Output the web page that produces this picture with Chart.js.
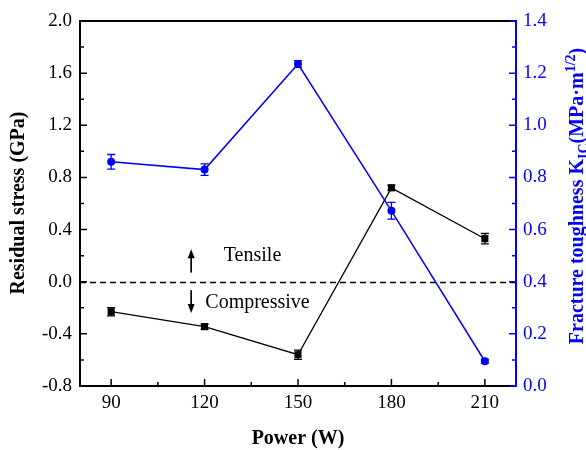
<!DOCTYPE html>
<html><head><meta charset="utf-8">
<script src="https://cdn.jsdelivr.net/npm/chart.js@4/dist/chart.umd.min.js"></script>
<style>html,body{margin:0;padding:0;background:#fff}#wrap{width:586px;height:450px;position:relative}</style>
</head><body><div id="wrap"><canvas id="c" width="586" height="450"></canvas></div>
<script>
// ---- data ----
const powers = [90, 120, 150, 180, 210];
const residualStress = [-0.23, -0.345, -0.56, 0.72, 0.33];
const residualStressErr = [0.032, 0.02, 0.035, 0.02, 0.04];
const toughness = [0.86, 0.83, 1.235, 0.672, 0.095];
const toughnessErr = [0.028, 0.022, 0.013, 0.032, 0.008];
const xTicks = [90, 120, 150, 180, 210];
const xMinorTicks = [105, 135, 165, 195];
const leftTicks = [-0.8, -0.4, 0.0, 0.4, 0.8, 1.2, 1.6, 2.0];
const leftMinorTicks = [-0.6, -0.2, 0.2, 0.6, 1.0, 1.4, 1.8];
const rightTicks = [0, 0.2, 0.4, 0.6, 0.8, 1.0, 1.2, 1.4];
const rightMinorTicks = [0.1, 0.3, 0.5, 0.7, 0.9, 1.1, 1.3];
const annotationLabels = ['Tensile', 'Compressive'];

const BLUE = '#0000ff';
const SERIF = '"Liberation Serif", "Times New Roman", serif';

const errorBars = {
  id: 'errorBars',
  beforeDatasetsDraw(chart) {
    const ctx = chart.ctx;
    const sets = [
      {idx: 0, vals: toughness, errs: toughnessErr, color: BLUE, axis: 'yR'},
      {idx: 1, vals: residualStress, errs: residualStressErr, color: '#000', axis: 'yL'}
    ];
    // zero dashed line
    const yL = chart.scales.yL, ca = chart.chartArea;
    ctx.save();
    ctx.strokeStyle = '#000'; ctx.lineWidth = 1.3; ctx.setLineDash([6, 4]);
    const y0 = Math.round(yL.getPixelForValue(0)) + 0.5;
    ctx.beginPath(); ctx.moveTo(ca.left, y0); ctx.lineTo(ca.right, y0); ctx.stroke();
    ctx.restore();
    sets.forEach(s => {
      const meta = chart.getDatasetMeta(s.idx);
      const sc = chart.scales[s.axis];
      ctx.save();
      ctx.strokeStyle = s.color; ctx.lineWidth = 1.3;
      meta.data.forEach((pt, j) => {
        const x = pt.x;
        const y1 = sc.getPixelForValue(s.vals[j] + s.errs[j]);
        const y2 = sc.getPixelForValue(s.vals[j] - s.errs[j]);
        ctx.beginPath();
        ctx.moveTo(x, y1); ctx.lineTo(x, y2);
        ctx.moveTo(x - 4, y1); ctx.lineTo(x + 4, y1);
        ctx.moveTo(x - 4, y2); ctx.lineTo(x + 4, y2);
        ctx.stroke();
      });
      ctx.restore();
    });
  },
  afterDraw(chart) {
    const ctx = chart.ctx, ca = chart.chartArea;
    const x = chart.scales.x, yL = chart.scales.yL, yR = chart.scales.yR;
    ctx.save();
    // frame
    ctx.lineWidth = 2;
    ctx.strokeStyle = '#000';
    ctx.beginPath();
    ctx.moveTo(ca.left, ca.top); ctx.lineTo(ca.right, ca.top);
    ctx.moveTo(ca.left, ca.top - 1); ctx.lineTo(ca.left, ca.bottom + 1);
    ctx.moveTo(ca.left - 1, ca.bottom); ctx.lineTo(ca.right, ca.bottom);
    ctx.stroke();
    ctx.strokeStyle = BLUE;
    ctx.beginPath(); ctx.moveTo(ca.right, ca.top - 1); ctx.lineTo(ca.right, ca.bottom + 1); ctx.stroke();
    // ticks (inward)
    ctx.lineWidth = 1.5;
    ctx.strokeStyle = '#000';
    ctx.beginPath();
    xTicks.forEach(v => { const p = x.getPixelForValue(v); ctx.moveTo(p, ca.bottom); ctx.lineTo(p, ca.bottom - 7); });
    xMinorTicks.forEach(v => { const p = x.getPixelForValue(v); ctx.moveTo(p, ca.bottom); ctx.lineTo(p, ca.bottom - 4); });
    leftTicks.forEach(v => { const p = yL.getPixelForValue(v); ctx.moveTo(ca.left, p); ctx.lineTo(ca.left + 7, p); });
    leftMinorTicks.forEach(v => { const p = yL.getPixelForValue(v); ctx.moveTo(ca.left, p); ctx.lineTo(ca.left + 4, p); });
    ctx.stroke();
    ctx.strokeStyle = BLUE;
    ctx.beginPath();
    rightTicks.forEach(v => { const p = yR.getPixelForValue(v); ctx.moveTo(ca.right, p); ctx.lineTo(ca.right - 7, p); });
    rightMinorTicks.forEach(v => { const p = yR.getPixelForValue(v); ctx.moveTo(ca.right, p); ctx.lineTo(ca.right - 4, p); });
    ctx.stroke();

    // annotations: arrows + labels
    ctx.fillStyle = '#000'; ctx.strokeStyle = '#000'; ctx.lineWidth = 1.7;
    const ax = x.getPixelForValue(115.7);
    const arrow = (ya, yb) => {
      const p1 = yL.getPixelForValue(ya), p2 = yL.getPixelForValue(yb);
      const dir = p2 > p1 ? 1 : -1;
      ctx.beginPath(); ctx.moveTo(ax, p1); ctx.lineTo(ax, p2 - dir * 6); ctx.stroke();
      ctx.beginPath(); ctx.moveTo(ax, p2); ctx.lineTo(ax - 3.5, p2 - dir * 9); ctx.lineTo(ax + 3.5, p2 - dir * 9); ctx.closePath(); ctx.fill();
    };
    arrow(0.07, 0.25);
    arrow(-0.065, -0.24);
    ctx.font = '20px ' + SERIF;
    ctx.textAlign = 'center'; ctx.textBaseline = 'middle';
    ctx.fillText(annotationLabels[0], x.getPixelForValue(135.4), yL.getPixelForValue(0.2));
    ctx.fillText(annotationLabels[1], x.getPixelForValue(137), yL.getPixelForValue(-0.164));

    // axis titles
    ctx.font = 'bold 20px ' + SERIF;
    ctx.fillText('Power (W)', (ca.left + ca.right) / 2, 439);
    ctx.save();
    ctx.translate(19, 203); ctx.rotate(-Math.PI / 2);
    ctx.fillText('Residual stress (GPa)', 0, 0);
    ctx.restore();

    // right title with sub/superscripts
    const segs = [
      {t: 'Fracture toughness K', s: 20, dy: 0},
      {t: 'IC', s: 14, dy: 5},
      {t: '(MPa\u00b7m', s: 20, dy: 0},
      {t: '1/2', s: 14, dy: -8},
      {t: ')', s: 20, dy: 0}
    ];
    ctx.save();
    ctx.fillStyle = BLUE;
    ctx.translate(576, 196); ctx.rotate(-Math.PI / 2);
    ctx.textAlign = 'left'; ctx.textBaseline = 'alphabetic';
    let total = 0;
    segs.forEach(g => { ctx.font = 'bold ' + g.s + 'px ' + SERIF; g.w = ctx.measureText(g.t).width; total += g.w; });
    let cx = -total / 2;
    segs.forEach(g => { ctx.font = 'bold ' + g.s + 'px ' + SERIF; ctx.fillText(g.t, cx, 7 + g.dy); cx += g.w; });
    ctx.restore();
    ctx.restore();
  }
};

const tickFont = {family: SERIF, size: 19};

new Chart(document.getElementById('c'), {
  type: 'line',
  data: {
    datasets: [
      {
        label: 'Fracture toughness',
        data: powers.map((p, i) => ({x: p, y: toughness[i]})),
        yAxisID: 'yR',
        borderColor: BLUE, backgroundColor: BLUE,
        borderWidth: 1.5, pointStyle: 'circle', pointRadius: 4,
        pointBorderWidth: 0, tension: 0
      },
      {
        label: 'Residual stress',
        data: powers.map((p, i) => ({x: p, y: residualStress[i]})),
        yAxisID: 'yL',
        borderColor: '#000', backgroundColor: '#000',
        borderWidth: 1.3, pointStyle: 'rect', pointRadius: 5,
        pointBorderWidth: 0, tension: 0
      }
    ]
  },
  options: {
    responsive: false, animation: false, devicePixelRatio: 1,
    layout: {padding: {top: 21, left: 0, right: 0, bottom: 0}},
    plugins: {legend: {display: false}, tooltip: {enabled: false}},
    scales: {
      x: {
        type: 'linear', position: 'bottom', min: 80, max: 220,
        afterBuildTicks: s => { s.ticks = xTicks.map(v => ({value: v})); },
        afterFit: s => { s.height = 64; },
        grid: {display: false, drawTicks: false}, border: {display: false},
        ticks: {padding: 6, font: tickFont, color: '#000', autoSkip: false, maxRotation: 0, callback: v => String(v)}
      },
      yL: {
        type: 'linear', position: 'left', min: -0.8, max: 2.0,
        afterBuildTicks: s => { s.ticks = leftTicks.map(v => ({value: v})); },
        afterFit: s => { s.width = 80; },
        grid: {display: false, drawTicks: false}, border: {display: false},
        ticks: {padding: 8, font: tickFont, color: '#000', autoSkip: false, callback: v => v.toFixed(1)}
      },
      yR: {
        type: 'linear', position: 'right', min: 0, max: 1.4,
        afterBuildTicks: s => { s.ticks = rightTicks.map(v => ({value: v})); },
        afterFit: s => { s.width = 70; },
        grid: {display: false, drawTicks: false}, border: {display: false},
        ticks: {padding: 7, font: tickFont, color: BLUE, autoSkip: false, callback: v => v.toFixed(1)}
      }
    }
  },
  plugins: [errorBars]
});
</script>
</body></html>
